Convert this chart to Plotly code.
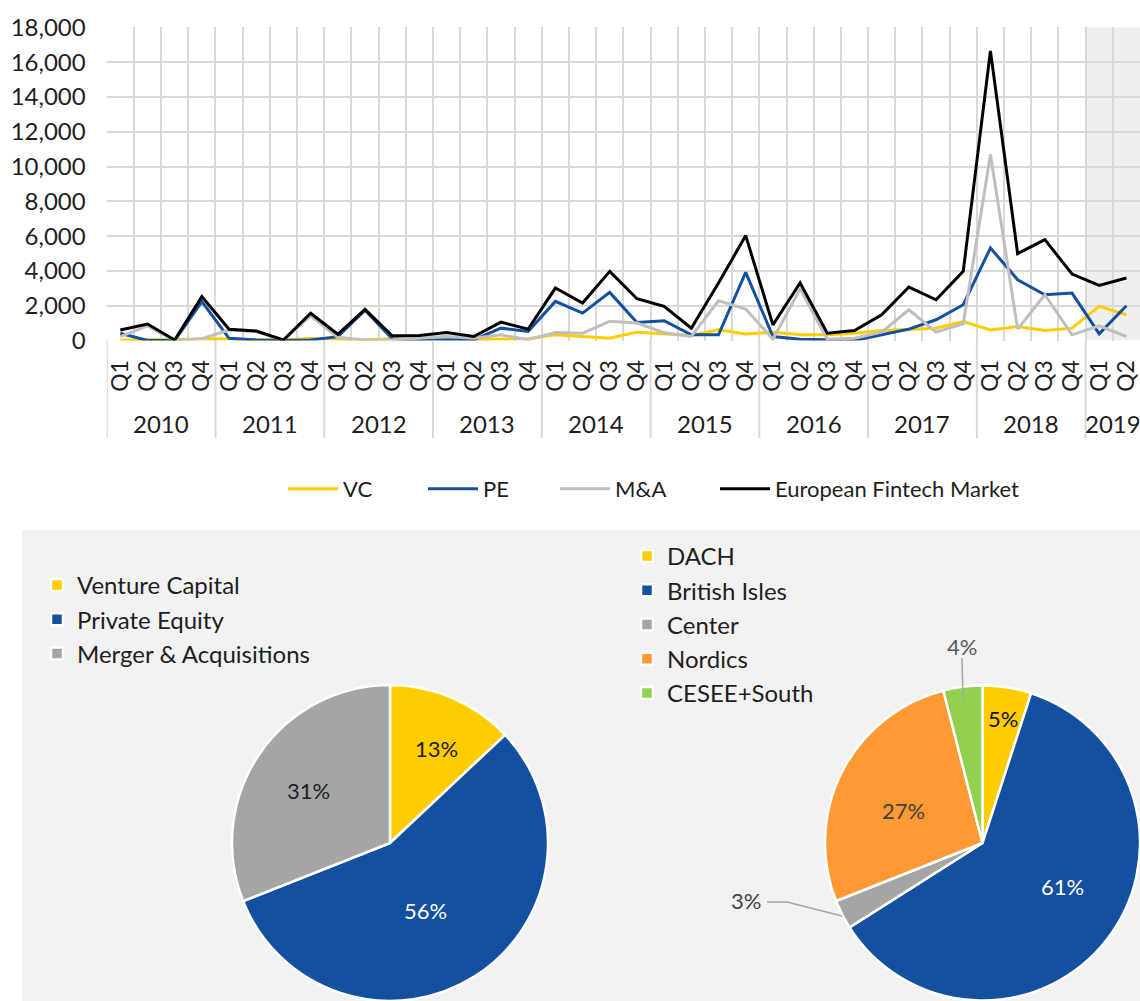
import plotly.graph_objects as go

# ---------------------------------------------------------------------------
# Quarterly deal volume, 2010 Q1 - 2019 Q2 (EUR m)
# ---------------------------------------------------------------------------
years = ["2010", "2011", "2012", "2013", "2014", "2015", "2016", "2017", "2018", "2019"]
quarters = ["Q1", "Q2", "Q3", "Q4"] * 9 + ["Q1", "Q2"]

vc = [20, 60, 40, 100, 80, 60, 30, 120, 60, 40, 100, 100, 130, 60, 80, 100,
      330, 230, 130, 480, 380, 290, 610, 370, 480, 330, 330, 420, 580, 650,
      710, 1090, 610, 810, 580, 710, 1960, 1480]
pe = [415, 0, 0, 2235, 127, 30, 0, 30, 220, 1740, 100, 0, 40, 40, 710, 518,
      2246, 1574, 2765, 1037, 1133, 326, 326, 3917, 230, 77, 38, 0, 326, 653,
      1190, 2054, 5318, 3494, 2630, 2726, 384, 1997]
ma = [220, 835, 0, 100, 605, 507, 30, 1411, 184, 30, 40, 134, 230, 130, 326, 40,
      460, 422, 1100, 1000, 450, 230, 2285, 1805, 77, 2957, 77, 134, 480, 1766,
      480, 960, 10694, 653, 2630, 326, 845, 230]
market = [605, 950, 30, 2520, 645, 547, 30, 1566, 357, 1790, 269, 288, 461, 230,
          1056, 653, 3014, 2150, 3974, 2400, 1958, 710, 3302, 6029, 900, 3302,
          422, 576, 1478, 3072, 2342, 3974, 16646, 4992, 5798, 3821, 3168, 3590]

y_ticks = list(range(0, 18001, 2000))

# Share of volume by deal type (%)
deal_types = ["Venture Capital", "Private Equity", "Merger & Acquisitions"]
deal_share = [13, 56, 31]

# Share of volume by region (%)
regions = ["DACH", "British Isles", "Center", "Nordics", "CESEE+South"]
region_share = [5, 61, 3, 27, 4]

# ---------------------------------------------------------------------------
W, H = 1140, 1001
FONT = "Lato"
TXT = "#1e1e1e"
GRID = "#d9d9d9"

YELLOW = "#FFCC00"
BLUE = "#13509F"
LIGHTGREY = "#BFBFBF"
GREY = "#A5A5A5"
ORANGE = "#FF9933"
GREEN = "#92D050"


def px(x, y):
    """Pixel position on the page -> paper coordinates."""
    return x / W, 1 - y / H


xs = list(range(len(quarters)))
fig = go.Figure()

# Each line series gets its own one-item legend so the entries can be spaced
# out along the row under the chart.
series = [
    ("VC", vc, YELLOW, "legend", 283),
    ("PE", pe, BLUE, "legend4", 423),
    ("M&A", ma, LIGHTGREY, "legend5", 555),
    ("European Fintech Market", market, "#000000", "legend6", 715),
]
line_legends = {}
for name, vals, color, leg, lx in series:
    fig.add_trace(go.Scatter(
        x=xs, y=vals, name=name, mode="lines",
        line=dict(color=color, width=3),
        legend=leg, showlegend=True,
    ))
    line_legends[leg] = dict(
        x=px(lx, 0)[0], xanchor="left", y=px(0, 489)[1], yanchor="middle",
        font=dict(size=22, color=TXT, family=FONT),
        bgcolor="rgba(0,0,0,0)", itemwidth=50,
    )

# Pie: deal types
fig.add_trace(go.Pie(
    labels=deal_types, values=deal_share, sort=False,
    direction="clockwise", rotation=0,
    marker=dict(colors=[YELLOW, BLUE, GREY], line=dict(color="white", width=2.5)),
    textinfo="none", hoverinfo="label+percent",
    domain=dict(x=[230 / W, 550 / W], y=[0, 316 / H]),
    legend="legend2",
))

# Pie: regions
fig.add_trace(go.Pie(
    labels=regions, values=region_share, sort=False,
    direction="clockwise", rotation=0,
    marker=dict(colors=[YELLOW, BLUE, GREY, ORANGE, GREEN],
                line=dict(color="white", width=2.5)),
    textinfo="none", hoverinfo="label+percent",
    domain=dict(x=[825 / W, 1.0], y=[0, 316 / H]),
    legend="legend3",
))

# ---------------------------------------------------------------------------
# Shapes: bottom panel, 2019 shading, year separators
shapes = [
    dict(type="rect", xref="paper", yref="paper",
         x0=22 / W, x1=1, y0=0, y1=px(0, 530)[1],
         fillcolor="#F2F2F2", line=dict(width=0), layer="below"),
    dict(type="rect", xref="x", yref="y",
         x0=35.5, x1=37.5, y0=0, y1=18000,
         fillcolor="#EFEFEF", line=dict(width=0), layer="below"),
]
for k in range(len(years)):
    xb = 4 * k - 0.5
    shapes.append(dict(type="line", xref="x", yref="paper",
                       x0=xb, x1=xb, y0=px(0, 340.5)[1], y1=px(0, 438)[1],
                       line=dict(color=GRID, width=2)))

# Leader lines for the small regional slices
shapes.append(dict(type="line", xref="paper", yref="paper",
                   x0=px(962, 658)[0], y0=px(962, 658)[1],
                   x1=px(963, 700)[0], y1=px(963, 700)[1],
                   line=dict(color="#A6A6A6", width=1.5)))
p1, p2, p3 = px(767, 902), px(787, 902), px(842, 916)
shapes.append(dict(type="path", xref="paper", yref="paper",
                   path=f"M {p1[0]},{p1[1]} L {p2[0]},{p2[1]} L {p3[0]},{p3[1]}",
                   line=dict(color="#A6A6A6", width=1.5)))

# ---------------------------------------------------------------------------
annotations = []
for k, yr in enumerate(years):
    n = 4 if k < 9 else 2
    annotations.append(dict(
        x=4 * k + (n - 1) / 2, xref="x", y=px(0, 423)[1], yref="paper",
        xanchor="center", yanchor="middle",
        text=yr, showarrow=False, font=dict(size=24, color=TXT, family=FONT),
    ))

# Pie percentage labels
deal_label_pos = [(436, 748, TXT), (425, 910, "white"), (308, 790, TXT)]
for v, (lx, ly, c) in zip(deal_share, deal_label_pos):
    ax, ay = px(lx, ly)
    annotations.append(dict(x=ax, y=ay, xref="paper", yref="paper",
                            xanchor="center", yanchor="middle",
                            text=f"{v}%", showarrow=False,
                            font=dict(size=22, color=c, family=FONT)))

region_label_pos = [(1003, 718, "#111111"), (1062, 886, "white"),
                    (746, 900, "#404040"), (903, 810, "#404040"),
                    (962, 646, "#595959")]
for v, (lx, ly, c) in zip(region_share, region_label_pos):
    ax, ay = px(lx, ly)
    annotations.append(dict(x=ax, y=ay, xref="paper", yref="paper",
                            xanchor="center", yanchor="middle",
                            text=f"{v}%", showarrow=False,
                            font=dict(size=22, color=c, family=FONT)))

# ---------------------------------------------------------------------------
fig.update_layout(
    width=W, height=H, autosize=False,
    margin=dict(l=0, r=0, t=0, b=0),
    paper_bgcolor="white", plot_bgcolor="white",
    font=dict(family=FONT, color=TXT, size=20),
    showlegend=True,
    shapes=shapes, annotations=annotations,
    xaxis=dict(
        domain=[106.7 / W, 1.0], range=[-0.5, 37.5],
        tickmode="array", tickvals=xs, ticktext=quarters, tickangle=-90,
        tickfont=dict(size=23, color=TXT, family=FONT),
        ticklabelstandoff=14,
        showgrid=False, zeroline=False, showline=False, automargin=False,
        minor=dict(tickmode="linear", tick0=-0.5, dtick=1, showgrid=True,
                   gridcolor=GRID, gridwidth=2),
    ),
    yaxis=dict(
        domain=[px(0, 340.5)[1], px(0, 27.3)[1]], range=[0, 18000],
        tickmode="array", tickvals=y_ticks,
        ticktext=[f"{v:,}" for v in y_ticks],
        tickfont=dict(size=24, color=TXT, family=FONT),
        showgrid=True, gridcolor=GRID, gridwidth=2,
        zeroline=False, showline=False, automargin=False,
        ticklabelstandoff=20,
    ),
    legend2=dict(
        x=px(37, 0)[0], xanchor="left", y=px(0, 563)[1], yanchor="top",
        font=dict(size=24, color=TXT, family=FONT),
        bgcolor="rgba(0,0,0,0)",
    ),
    legend3=dict(
        x=px(627, 0)[0], xanchor="left", y=px(0, 534)[1], yanchor="top",
        font=dict(size=24, color=TXT, family=FONT),
        bgcolor="rgba(0,0,0,0)",
    ),
    **line_legends,
)

fig.write_html("out.html")
